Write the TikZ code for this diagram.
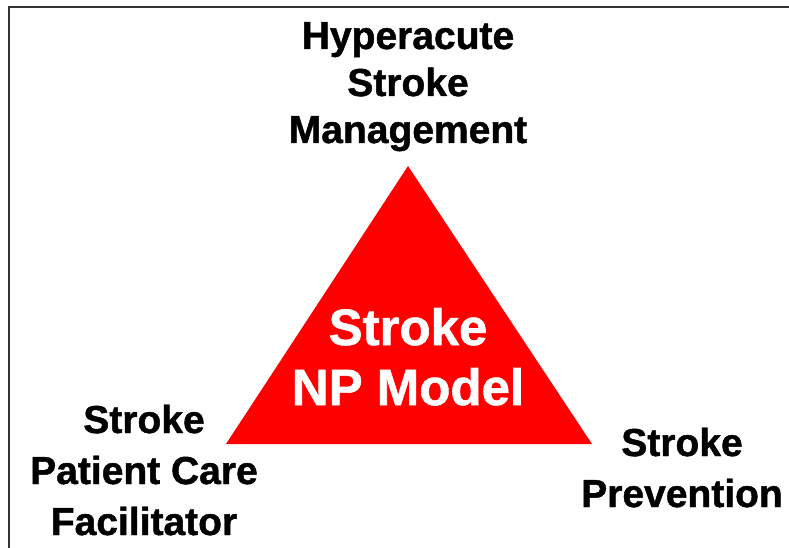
\documentclass[tikz,border=0pt]{standalone}
\usepackage{fontspec}
\setmainfont{Liberation Sans}[BoldFeatures={FakeBold=1.2}]
\begin{document}
\begin{tikzpicture}[x = 1pt, y = -1pt,
        corner/.style = {font=\fontsize{39}{47}\selectfont\bfseries, align=center, anchor=base, inner sep=0pt},
        wide/.style = {font=\fontsize{39}{51}\selectfont\bfseries, align=center, anchor=base, inner sep=0pt}]
        \useasboundingbox (0, 0) rectangle (789, 548);
        \draw [line width = 1.7pt, black!80] (8.8, 548) -- (8.8, 6.8) -- (789, 6.8);
        \coordinate (apex) at (408, 166);
        \coordinate (baseleft) at (226, 444);
        \coordinate (baseright) at (592, 444);
        \fill [red] (apex) -- (baseleft) -- (baseright) -- cycle;
        \node [corner] (hyper) at (408, 143) {Hyperacute\\Stroke\\Management};
        \node [wide] (care) at (144, 535) {Stroke\\Patient Care\\Facilitator};
        \node [wide] (prev) at (682, 507) {Stroke\\Prevention};
        \node [font=\fontsize{51}{60}\selectfont\bfseries, align=center, anchor=base, inner sep=0pt, white] (model) at (408, 405) {Stroke\\NP Model};
    \end{tikzpicture}
\end{document}
